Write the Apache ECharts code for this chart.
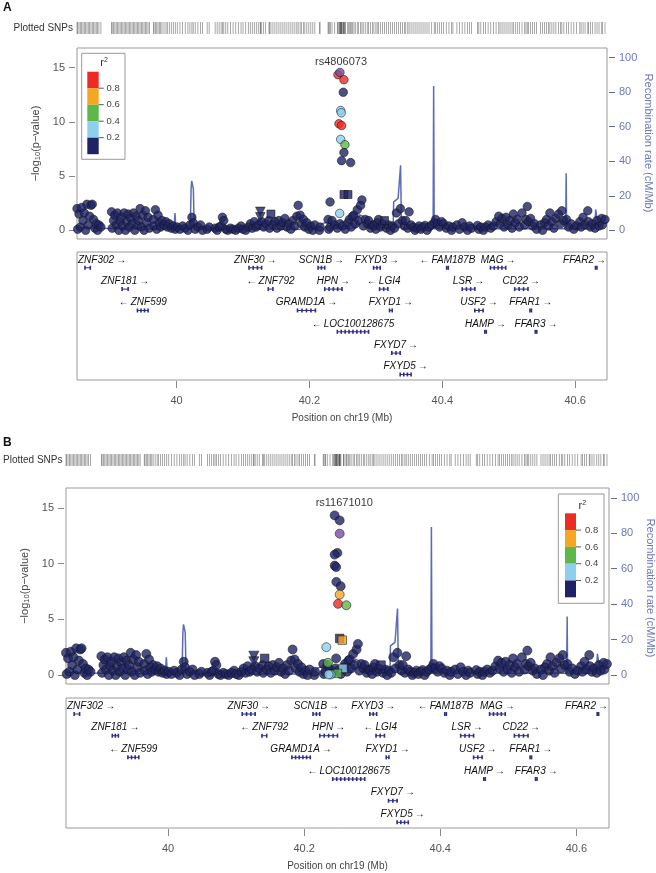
<!DOCTYPE html>
<html><head><meta charset="utf-8">
<script src="https://cdn.jsdelivr.net/npm/echarts@6/dist/echarts.min.js"></script>
<style>html,body{margin:0;padding:0;background:#fff}#c{width:656px;height:873px}</style>
</head><body><div id="c"></div>
<script>
// ---------------- DATA ----------------
const regionMb = [39.85, 40.648];
const xTicks = [40, 40.2, 40.4, 40.6];
const pTicks = [0, 5, 10, 15];
const recTicks = [0, 20, 40, 60, 80, 100];
const r2Labels = ['0.8', '0.6', '0.4', '0.2'];

// background SNPs (same in both panels): [position Mb, -log10 p]
const baseSNPs = [
 [39.850,2.0],[39.851,0.1],[39.853,1.5],[39.855,0.3],[39.857,2.1],[39.859,0.9],[39.861,1.6],[39.863,0.0],[39.865,2.4],[39.867,0.5],[39.869,1.3],[39.871,2.3],[39.873,2.4],[39.875,1.0],[39.877,0.2],[39.879,0.6],[39.881,0.0],[39.883,0.5],[39.886,0.3],
 [39.902,1.7],[39.903,0.2],[39.905,0.9],[39.907,1.4],[39.909,0.5],[39.911,1.6],[39.913,0.0],[39.915,0.8],[39.917,1.2],[39.919,0.4],[39.921,1.6],[39.923,0.0],[39.925,0.8],[39.927,1.5],[39.929,0.3],[39.931,1.1],[39.933,0.6],[39.935,1.6],[39.937,0.0],[39.939,1.3],[39.941,0.5],[39.943,0.9],[39.945,2.0],[39.947,0.3],[39.949,1.4],[39.951,0.0],[39.953,1.8],[39.955,0.7],[39.957,1.2],[39.959,0.2],
 [39.965,1.0],[39.966,0.4],[39.968,1.9],[39.970,0.1],[39.972,1.4],[39.974,0.7],[39.976,0.3],[39.978,0.9],[39.981,0.5],[39.984,0.8],[39.986,0.3],[39.989,0.6],[39.992,0.2],[39.995,0.4],[39.998,0.1],[40.001,0.3],[40.005,0.1],[40.009,0.4],[40.013,0.2],[40.017,0.0],[40.020,0.5],[40.023,1.2],[40.025,0.7],[40.028,0.1],[40.032,0.3],[40.036,0.5],[40.039,0.0],
 [40.046,0.1],[40.049,0.3],
 [40.058,0.2],[40.061,0.0],[40.064,0.3],[40.067,0.4],[40.069,1.2],[40.071,0.9],[40.074,0.1],[40.077,0.0],[40.081,0.2],[40.085,0.1],[40.089,0.0],[40.093,0.2],[40.097,0.4],[40.100,0.1],[40.104,0.0],[40.108,0.3],[40.111,0.6],[40.114,0.2],[40.117,0.8],[40.120,0.3],[40.123,0.5],[40.128,0.8],[40.131,0.3],[40.134,0.6],
 [40.139,0.9],[40.140,0.2],[40.145,0.5],[40.148,0.8],[40.151,0.2],[40.154,0.9],[40.157,0.4],[40.160,0.7],[40.163,1.1],[40.166,0.3],[40.169,0.6],[40.172,0.1],[40.175,0.9],[40.178,0.4],[40.181,1.3],[40.183,2.3],[40.186,1.4],[40.188,0.6],[40.191,1.0],[40.193,0.3],[40.196,0.7],[40.199,0.1],[40.202,0.4],[40.205,0.0],[40.208,0.5],
 [40.215,0.0],[40.216,0.3],
 [40.228,1.0],[40.229,0.1],[40.231,0.3],[40.234,0.9],[40.238,0.5],[40.242,0.2],[40.246,0.6],[40.250,0.4],[40.254,0.1],[40.258,0.7],[40.260,1.0],[40.263,0.3],[40.265,1.3],[40.267,1.4],[40.269,0.6],[40.272,1.9],[40.274,0.9],[40.277,2.3],[40.279,2.8],[40.281,0.4],[40.284,1.0],[40.287,0.6],[40.289,0.9],[40.292,0.2],[40.295,0.5],[40.297,0.4],[40.300,0.1],[40.302,0.7],[40.304,1.0],[40.307,0.3],[40.310,0.6],[40.316,0.2],[40.319,0.5],[40.322,0.0],[40.325,0.4],[40.328,0.2],[40.331,1.6],[40.334,0.6],[40.337,2.0],[40.340,0.9],[40.343,0.4],[40.345,0.9],[40.348,0.2],[40.350,1.7],[40.353,0.5],[40.356,0.3],[40.359,0.0],[40.362,0.2],[40.365,0.4],[40.368,0.1],[40.371,0.3],[40.374,0.45],[40.377,0.0],[40.380,0.3],[40.384,0.5],[40.388,0.7],[40.390,1.0],[40.393,0.6],[40.396,0.3],[40.399,0.8],[40.402,0.6],[40.406,0.2],[40.410,0.4],[40.414,0.0],[40.416,0.3],
 [40.422,0.5],[40.426,0.1],[40.430,0.7],[40.434,0.3],[40.438,0.0],[40.441,0.4],[40.444,0.2],
 [40.453,0.45],[40.455,0.1],[40.458,0.3],[40.462,0.0],[40.465,0.3],[40.469,0.5],[40.473,0.2],[40.477,0.4],[40.481,0.8],[40.485,1.3],[40.487,0.6],[40.490,1.1],[40.493,0.3],[40.496,1.2],[40.499,0.5],[40.502,0.9],[40.505,0.2],[40.507,1.5],[40.510,0.7],[40.513,1.0],[40.516,0.3],
 [40.520,1.6],[40.524,0.5],[40.526,1.0],[40.528,2.2],[40.530,0.8],[40.533,1.1],[40.536,0.4],[40.539,0.6],[40.542,0.1],
 [40.548,0.5],[40.551,0.0],[40.554,0.7],[40.557,1.0],[40.560,0.4],[40.562,1.6],[40.565,0.8],[40.568,0.2],[40.571,1.1],[40.575,1.5],[40.578,0.6],[40.580,1.8],[40.583,0.9],[40.587,1.0],[40.590,0.3],[40.594,0.6],[40.598,0.1],[40.602,0.4],
 [40.607,0.8],[40.609,0.3],[40.612,1.2],[40.615,0.5],[40.619,1.8],[40.620,0.8],[40.623,0.3],[40.626,0.6],[40.630,0.2],[40.633,0.9],[40.636,0.4],[40.640,1.1],[40.641,0.5],[40.645,1.0]
];
const baseTriangles = [[40.126,1.7],[40.126,1.2]];
const baseSquares = [[40.142,1.5],[40.313,0.9]];

// Panel A locus SNPs: [pos, -log10 p, r2]
const peakA = [
 [40.2429,14.34,0.9],[40.2519,13.88,0.9],[40.2509,12.72,0.1],[40.2470,11.04,0.3],[40.2479,10.83,0.3],
 [40.2444,9.82,0.9],[40.2484,9.66,0.9],[40.2470,8.38,0.3],[40.2534,7.89,0.5],[40.2519,7.16,0.1],
 [40.2484,6.42,0.1],[40.2620,6.24,0.1],[40.2310,2.62,0.1],[40.2455,1.56,0.3]
];
const peakSquaresA = [[40.2520,3.3,0.1],[40.2580,3.3,0.1]];
const leadA = {name:'rs4806073', pos:40.2459, p:14.55, labelPos:40.2475};

// Panel B locus SNPs: [pos, -log10 p, r2]
const peakB = [
 [40.2448,14.34,0.1],[40.2522,13.89,0.1],[40.2488,10.97,0.1],[40.2448,10.82,0.1],[40.2448,9.83,0.1],
 [40.2470,9.70,0.1],[40.2473,8.37,0.1],[40.2537,7.98,0.1],[40.2522,7.23,0.7],[40.2498,6.40,0.9],
 [40.2620,6.27,0.5],[40.2326,2.51,0.3],[40.2470,1.50,0.1],[40.2350,1.11,0.5],[40.2390,0.06,0.3],[40.2360,0.06,0.3]
];
const peakSquaresB = [[40.2522,3.29,0.1],[40.2560,3.14,0.7],[40.2570,0.60,0.3],[40.2490,0.15,0.5]];
const leadB = {name:'rs11671010', pos:40.2522, p:12.70, labelPos:40.259};
const leadLabelP = 15.5;

// recombination rate (cM/Mb)
const recombRate = [[39.850,1.6],[39.880,1.2],[39.930,0.9],[39.996,0.8],[39.9975,10],[39.999,0.8],[40.0205,1.0],[40.0218,24],[40.0227,28.6],[40.0243,28.6],[40.0252,24],[40.0265,1.0],[40.100,0.6],[40.205,0.6],[40.213,1.5],[40.220,4.0],[40.228,5.0],[40.236,3.5],[40.242,1.0],[40.262,1.2],[40.270,1.5],[40.2755,9],[40.281,8],[40.289,1.0],[40.326,1.0],[40.3268,16.5],[40.3335,18.5],[40.3355,19.5],[40.3372,37.6],[40.3385,1.0],[40.3862,1.0],[40.3870,83.5],[40.3878,1.0],[40.5858,1.0],[40.5865,33],[40.5872,1.0],[40.6295,1.0],[40.6310,12],[40.6325,12],[40.6345,2.5],[40.640,3.5],[40.648,4.5]];

// genes: names + [start, end, row, strand]
const geneNames = ['ZNF302','ZNF181','ZNF599','ZNF30','ZNF792','SCN1B','HPN','GRAMD1A','LOC100128675','FXYD3','LGI4','FXYD1','FXYD7','FXYD5','FAM187B','MAG','LSR','CD22','USF2','FFAR1','HAMP','FFAR3','FFAR2'];
const geneSpans = [[39.862,39.870,0,1],[39.918,39.927,1,1],[39.941,39.957,2,-1],[40.109,40.128,0,1],[40.138,40.145,1,-1],[40.213,40.223,0,1],[40.223,40.249,1,1],[40.182,40.209,2,1],[40.242,40.289,3,-1],[40.2965,40.3066,0,1],[40.3056,40.318,1,-1],[40.3206,40.3246,2,1],[40.324,40.3366,4,1],[40.3366,40.353,5,1],[40.4066,40.409,0,-1],[40.4725,40.4955,0,1],[40.430,40.449,1,1],[40.509,40.529,1,1],[40.449,40.4615,2,1],[40.532,40.534,2,1],[40.464,40.466,3,1],[40.540,40.5415,3,1],[40.6306,40.6326,0,1]];

// ---------------- STYLE ----------------
const FONT = '"Liberation Sans", Arial, Helvetica, sans-serif';
const NAVY='#1e2365', LBLUE='#8ecfee', GREEN='#5db84a', ORANGE='#f6a623', RED='#ee2a25', PURPLE='#7b4ea0';
const LDCOLS = [RED, ORANGE, GREEN, LBLUE, NAVY];
const RECCOL = '#5b6bb8', RECTXT = '#6a78bd';
function ldColor(r2){ return r2>=0.8?RED: r2>=0.6?ORANGE: r2>=0.4?GREEN: r2>=0.2?LBLUE:NAVY; }

const mctx = document.createElement('canvas').getContext('2d');
function textW(t, font){ mctx.font = font; return mctx.measureText(t).width; }

function geneRender(params, api){
  const s = api.value(0), e = api.value(1), row = api.value(2), strand = api.value(3);
  const name = geneNames[params.dataIndex];
  const a = api.coord([s, row + 0.74]), b = api.coord([e, row + 0.74]);
  const cs = params.coordSys;
  const x1 = a[0], x2 = Math.max(b[0], a[0] + 1.5), y = a[1];
  const col = '#2b2e88';
  const ch = [{type:'line', shape:{x1:x1, y1:y, x2:x2, y2:y}, style:{stroke:col, lineWidth:1}}];
  const len = x2 - x1;
  const n = Math.max(1, Math.round(len / 4));
  for (let i = 0; i <= n; i++){
    const ex = x1 + len * i / n;
    ch.push({type:'rect', shape:{x:ex-0.8, y:y-2, width:1.6, height:4}, style:{fill:col}});
  }
  const text = strand > 0 ? name + '\u2009\u2192' : '\u2190\u2009' + name;
  const font = 'italic 10px ' + FONT;
  const w = textW(text, font);
  let cx = (x1 + x2) / 2;
  cx = Math.max(cs.x + w/2 + 1, Math.min(cs.x + cs.width - w/2 - 1, cx));
  const ly = api.coord([s, row + 0.37])[1];
  ch.push({type:'text', style:{text:text, x:cx, y:ly, align:'center', verticalAlign:'middle', font:font, fill:'#111'}});
  return {type:'group', children:ch};
}

function circleData(list, col){ return list.map(d => ({value:[d[0], d[1]], itemStyle:{color: col || ldColor(d[2])}})); }

function panelSeries(xi, yi, yr, gi, peaks, peakSq, lead, size){
  const pt = {borderColor:'#161616', borderWidth:0.7};
  return [
    {type:'line', xAxisIndex:xi, yAxisIndex:yr, data:recombRate, showSymbol:false, lineStyle:{color:RECCOL, width:1.5}, z:1, silent:true},
    {type:'scatter', xAxisIndex:xi, yAxisIndex:yi, data:circleData(baseSNPs, NAVY), symbolSize:size, itemStyle:pt, z:2},
    {type:'scatter', xAxisIndex:xi, yAxisIndex:yi, data:circleData(baseTriangles, NAVY), symbol:'triangle', symbolRotate:180, symbolSize:size+1, itemStyle:pt, z:2},
    {type:'scatter', xAxisIndex:xi, yAxisIndex:yi, data:circleData(baseSquares, NAVY), symbol:'rect', symbolSize:size-0.5, itemStyle:pt, z:2},
    {type:'scatter', xAxisIndex:xi, yAxisIndex:yi, data:circleData(peakSq), symbol:'rect', symbolSize:size-0.5, itemStyle:pt, z:3},
    {type:'scatter', xAxisIndex:xi, yAxisIndex:yi, data:circleData(peaks), symbolSize:size, itemStyle:pt, z:3},
    {type:'scatter', xAxisIndex:xi, yAxisIndex:yi, data:[{value:[lead.pos, lead.p], itemStyle:{color:PURPLE}}], symbolSize:size, itemStyle:pt, z:4},
    {type:'scatter', xAxisIndex:xi, yAxisIndex:yi, data:[{name:lead.name, value:[lead.labelPos, leadLabelP]}], symbolSize:1, itemStyle:{color:'rgba(0,0,0,0)'}, z:5,
      label:{show:true, position:'inside', formatter:'{b}', color:'#000', fontSize:11, fontFamily:FONT}},
    {type:'custom', xAxisIndex:xi+1, yAxisIndex:gi, data:geneSpans, renderItem:geneRender, encode:{x:[0,1], y:2}, clip:false}
  ];
}

const allPos = baseSNPs.concat(baseTriangles, baseSquares, peakA, peakSquaresA).map(d => [d[0], 0.5]);
function rugSeries(xi, yi){
  return {type:'scatter', xAxisIndex:xi, yAxisIndex:yi, data:allPos, symbol:'rect', symbolSize:[0.8,12], itemStyle:{color:'#3a3a3a', opacity:0.55}, silent:true};
}

function xHidden(g){ return {type:'value', gridIndex:g, min:regionMb[0], max:regionMb[1], show:false}; }
function xGene(g){ return {type:'value', gridIndex:g, min:regionMb[0], max:regionMb[1], position:'bottom', offset:1,
  axisLine:{show:false, onZero:false}, splitLine:{show:false},
  axisTick:{show:true, length:7, lineStyle:{color:'#888'}, customValues:xTicks},
  axisLabel:{show:true, customValues:xTicks, margin:14, color:'#555', fontSize:11, fontFamily:FONT, formatter:v => String(+(+v).toFixed(1))},
  name:'Position on chr19 (Mb)', nameLocation:'middle', nameGap:32, nameTextStyle:{color:'#444', fontSize:10, fontFamily:FONT}}; }
function yP(g, nameGap){ return {type:'value', gridIndex:g, min:-0.8, max:16.8, position:'left', offset:2,
  axisLine:{show:false, onZero:false}, splitLine:{show:false},
  axisTick:{show:true, length:6, lineStyle:{color:'#888'}, customValues:pTicks},
  axisLabel:{show:true, customValues:pTicks, margin:10, color:'#555', fontSize:11, fontFamily:FONT},
  name:'\u2212log{sub|10}(p\u2212value)', nameLocation:'middle', nameRotate:90, nameGap:nameGap,
  nameTextStyle:{color:'#444', fontSize:11, fontFamily:FONT, rich:{sub:{fontSize:7.5, fontFamily:FONT, color:'#444', verticalAlign:'bottom', padding:[4,0,0,0]}}}}; }
function yR(g){ return {type:'value', gridIndex:g, min:-5, max:105.5, position:'right', offset:2,
  axisLine:{show:false, onZero:false}, splitLine:{show:false},
  axisTick:{show:true, length:6, lineStyle:{color:RECCOL}, customValues:recTicks},
  axisLabel:{show:true, customValues:recTicks, margin:10, color:RECTXT, fontSize:11, fontFamily:FONT}}; }
function yGene(g){ return {type:'value', gridIndex:g, min:0, max:6, inverse:true, show:false}; }
function yRug(g){ return {type:'value', gridIndex:g, min:0, max:1, show:false}; }

function legendEls(bx, by, bw, bh, barX, barW, barTop, segH, titleX, titleY, labX){
  const els = [{type:'rect', z:100, shape:{x:bx, y:by, width:bw, height:bh}, style:{fill:'#fff', stroke:'#999', lineWidth:1}}];
  els.push({type:'text', z:101, style:{x:titleX, y:titleY, text:'r{s|2}', align:'center', verticalAlign:'middle', fontSize:11, fontFamily:FONT, fill:'#333',
    rich:{s:{fontSize:7, fontFamily:FONT, fill:'#333', verticalAlign:'top', padding:[0,0,5,0]}}}});
  LDCOLS.forEach((c, i) => els.push({type:'rect', z:101, shape:{x:barX, y:barTop + i*segH, width:barW, height:segH}, style:{fill:c}}));
  r2Labels.forEach((t, i) => {
    const yy = barTop + (i+1)*segH;
    els.push({type:'line', z:101, shape:{x1:barX+barW, y1:yy, x2:barX+barW+5, y2:yy}, style:{stroke:'#555', lineWidth:1}});
    els.push({type:'text', z:101, style:{x:labX, y:yy, text:t, align:'left', verticalAlign:'middle', fontSize:9.5, fontFamily:FONT, fill:'#444'}});
  });
  return els;
}

function recTitle(x, y){
  return {type:'text', z:100, x:x, y:y, rotation:-Math.PI/2,
    style:{x:0, y:0, text:'Recombination rate (cM/Mb)', fontSize:11, fontFamily:FONT, fill:RECTXT, align:'center', verticalAlign:'middle'}};
}

const graphics = [
  {type:'text', z:100, style:{x:3, y:8, text:'A', fontSize:12, fontWeight:'bold', fontFamily:FONT, fill:'#111', verticalAlign:'middle'}},
  {type:'text', z:100, style:{x:3, y:443, text:'B', fontSize:12, fontWeight:'bold', fontFamily:FONT, fill:'#111', verticalAlign:'middle'}},
  {type:'text', z:100, style:{x:73, y:28, text:'Plotted SNPs', fontSize:10, fontFamily:FONT, fill:'#333', align:'right', verticalAlign:'middle'}},
  {type:'text', z:100, style:{x:62.5, y:460, text:'Plotted SNPs', fontSize:10, fontFamily:FONT, fill:'#333', align:'right', verticalAlign:'middle'}},
  recTitle(648, 143),
  recTitle(650, 588)
].concat(
  legendEls(81.7, 53.3, 43.3, 106, 87.3, 11.4, 71.7, 16.5, 104, 62.5, 106.5),
  legendEls(558.3, 494, 45.7, 109.3, 565, 11, 513.3, 16.8, 582.3, 505.5, 585)
);

const chart = echarts.init(document.getElementById('c'), null, {renderer:'canvas'});
chart.setOption({
  animation:false,
  backgroundColor:'#fff',
  textStyle:{fontFamily:FONT},
  grid:[
    {left:77, top:48, width:530, height:191, show:true, borderColor:'#999', borderWidth:1, backgroundColor:'transparent'},
    {left:77, top:252, width:530, height:128, show:true, borderColor:'#999', borderWidth:1, backgroundColor:'transparent'},
    {left:66, top:488, width:543, height:196, show:true, borderColor:'#999', borderWidth:1, backgroundColor:'transparent'},
    {left:66, top:698, width:543, height:130, show:true, borderColor:'#999', borderWidth:1, backgroundColor:'transparent'},
    {left:77, top:22, width:530, height:12},
    {left:66, top:454, width:543, height:12}
  ],
  xAxis:[xHidden(0), xGene(1), xHidden(2), xGene(3), xHidden(4), xHidden(5)],
  yAxis:[yP(0,30), yR(0), yGene(1), yP(2,33), yR(2), yGene(3), yRug(4), yRug(5)],
  graphic:graphics,
  series:[].concat(
    panelSeries(0, 0, 1, 2, peakA, peakSquaresA, leadA, 8.5),
    panelSeries(2, 3, 4, 5, peakB, peakSquaresB, leadB, 9),
    [rugSeries(4, 6), rugSeries(5, 7)]
  )
});
</script>
</body></html>
